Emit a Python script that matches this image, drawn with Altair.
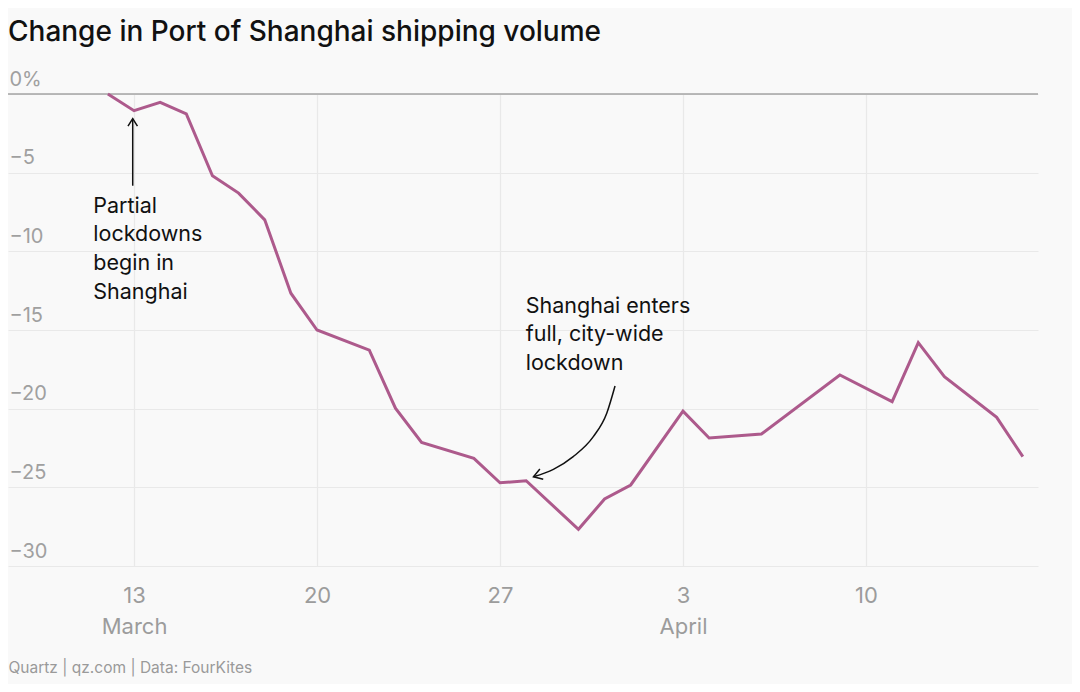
import altair as alt
import pandas as pd

# ---- data ----
dates = ["2022-03-12", "2022-03-13", "2022-03-14", "2022-03-15", "2022-03-16",
         "2022-03-17", "2022-03-18", "2022-03-19", "2022-03-20", "2022-03-22",
         "2022-03-23", "2022-03-24", "2022-03-26", "2022-03-27", "2022-03-28",
         "2022-03-30", "2022-03-31", "2022-04-01", "2022-04-03", "2022-04-04",
         "2022-04-06", "2022-04-09", "2022-04-11", "2022-04-12", "2022-04-13",
         "2022-04-15", "2022-04-16"]
values = [0.0, -1.06, -0.53, -1.27, -5.2,
          -6.3, -8.0, -12.66, -15.0, -16.28,
          -19.97, -22.14, -23.16, -24.71, -24.58,
          -27.67, -25.74, -24.85, -20.16, -21.86,
          -21.61, -17.86, -19.55, -15.8, -17.96,
          -20.55, -23.05]

tick_dates = ["2022-03-13", "2022-03-20", "2022-03-27", "2022-04-03", "2022-04-10"]
tick_days = ["13", "20", "27", "3", "10"]
tick_months = ["March", "", "", "April", ""]

y_ticks = [0, -5, -10, -15, -20, -25, -30]
y_labels = ["0%", "\u22125", "\u221210", "\u221215", "\u221220", "\u221225", "\u221230"]

title_text = "Change in Port of Shanghai shipping volume"
source_text = "Quartz | qz.com | Data: FourKites"

# annotations (data coordinates)
note_texts = ["Partial\nlockdowns\nbegin in\nShanghai",
              "Shanghai enters\nfull, city-wide\nlockdown"]
note_dates = ["2022-03-11T10:36", "2022-03-27T23:36"]
note_values = [-7.54, -13.9]

arrow1_date = ["2022-03-12T22:48"]
arrow1_top = [-1.57]
arrow1_bottom = [-5.83]

arrow2_dates = ["2022-03-31T09:36", "2022-03-31T02:00", "2022-03-30T13:40",
                "2022-03-29T19:12", "2022-03-29T01:00", "2022-03-28T06:43"]
arrow2_values = [-18.56, -20.29, -21.78, -23.05, -23.86, -24.33]

# ---- tables ----
def ts(s):
    return s if "T" in s else s + "T00:00"

line_df = pd.DataFrame({"date": [ts(d) for d in dates], "value": values})
zero_df = pd.DataFrame({"value": [0]})
note_df = pd.DataFrame({"date": note_dates, "value": note_values, "text": note_texts})
arrow1_df = pd.DataFrame({"date": arrow1_date, "value": arrow1_bottom, "value2": arrow1_top})
head1_df = pd.DataFrame({"date": arrow1_date, "value": arrow1_top})
arrow2_df = pd.DataFrame({"date": arrow2_dates, "value": arrow2_values})
head2_df = pd.DataFrame({"date": [arrow2_dates[-1]], "value": [arrow2_values[-1]]})

FONT = "Inter"
GRID = "#e9e9e9"

def dt(s, h=0, m=0):
    y, mo, d = [int(p) for p in s.split("-")]
    return alt.DateTime(year=y, month=mo, date=d, hours=h, minutes=m)

tick_str = "[" + ",".join("'%s'" % d for d in tick_dates) + "]"
idx = "indexof(%s, timeFormat(datum.value, '%%Y-%%m-%%d'))" % tick_str
days_str = "[" + ",".join("'%s'" % d for d in tick_days) + "]"
months_str = "[" + ",".join("'%s'" % d for d in tick_months) + "]"
x_label_expr = "[%s[%s], %s[%s]]" % (days_str, idx, months_str, idx)

y_label_expr = "[%s][indexof([%s], datum.value)]" % (
    ",".join("'%s'" % l for l in y_labels), ",".join(str(v) for v in y_ticks))

x_scale = alt.Scale(domain=[dt("2022-03-08", 4, 18), dt("2022-04-16", 13, 55)])
y_scale = alt.Scale(domain=[-30, 0], nice=False, zero=False)

x_axis = alt.Axis(
    values=[dt(d) for d in tick_dates], labelExpr=x_label_expr,
    grid=True, gridColor=GRID, gridWidth=1.2, ticks=False, tickSize=0, domain=False,
    labelPadding=19, labelFont=FONT, labelFontSize=22, labelColor="#9c9c9c",
    labelLineHeight=31, labelFlush=False, labelOverlap=False,
    title=source_text, titleFont=FONT, titleFontSize=15.5, titleFontWeight="normal",
    titleColor="#9a9a9a", titleAlign="left", titleAnchor="start",
    titleX=0, titleY=106, titleBaseline="alphabetic",
)
y_axis = alt.Axis(
    values=y_ticks, labelExpr=y_label_expr, orient="left",
    grid=True, gridColor=GRID, gridWidth=1.2, ticks=False, tickSize=0, domain=False,
    labelAlign="left", labelBaseline="alphabetic", labelOffset=-9, labelPadding=-1,
    labelFont=FONT, labelFontSize=20, labelColor="#a0a0a0", labelFlush=False,
    title=None,
)

X = alt.X("date:T", scale=x_scale, axis=x_axis)
Y = alt.Y("value:Q", scale=y_scale, axis=y_axis)

zero = alt.Chart(zero_df).mark_rule(color="#a3a3a3", strokeWidth=1.5).encode(y=Y)

line = alt.Chart(line_df).mark_line(color="#ad5a8c", strokeWidth=3).encode(x=X, y=Y)

notes = alt.Chart(note_df).mark_text(
    align="left", baseline="alphabetic", font=FONT, fontSize=21.5,
    lineBreak="\n", lineHeight=28.8, color="#111111"
).encode(x=X, y=Y, text="text:N")

arrow1 = alt.Chart(arrow1_df).mark_rule(color="#111111", strokeWidth=1.5).encode(
    x=X, y=Y, y2="value2:Q")

CHEVRON = "M-1,-0.64L0,0L-1,0.64"
head1 = alt.Chart(head1_df).mark_point(
    shape=CHEVRON, filled=False, size=219, angle=270, strokeWidth=1.5,
    color="#111111", opacity=1).encode(x=X, y=Y)

arrow2 = alt.Chart(arrow2_df).mark_line(
    color="#111111", strokeWidth=1.5, interpolate="monotone").encode(x=X, y=Y)

head2 = alt.Chart(head2_df).mark_point(
    shape=CHEVRON, filled=False, size=289, angle=162, strokeWidth=1.5,
    color="#111111", opacity=1).encode(x=X, y=Y)

chart = alt.layer(zero, line, arrow1, head1, arrow2, head2, notes).properties(
    width=1030, height=472,
    autosize=alt.AutoSizeParams(type="none"),
    padding={"left": 0, "top": 86, "right": 34, "bottom": 118},
    background="#f9f9f9",
    title=alt.TitleParams(title_text, anchor="start", frame="group", font=FONT,
                          fontSize=28, fontWeight=500, color="#111111",
                          baseline="alphabetic", offset=0),
).configure_view(stroke=None)

chart.save("out.html", embed_options={"renderer": "svg", "actions": False})
